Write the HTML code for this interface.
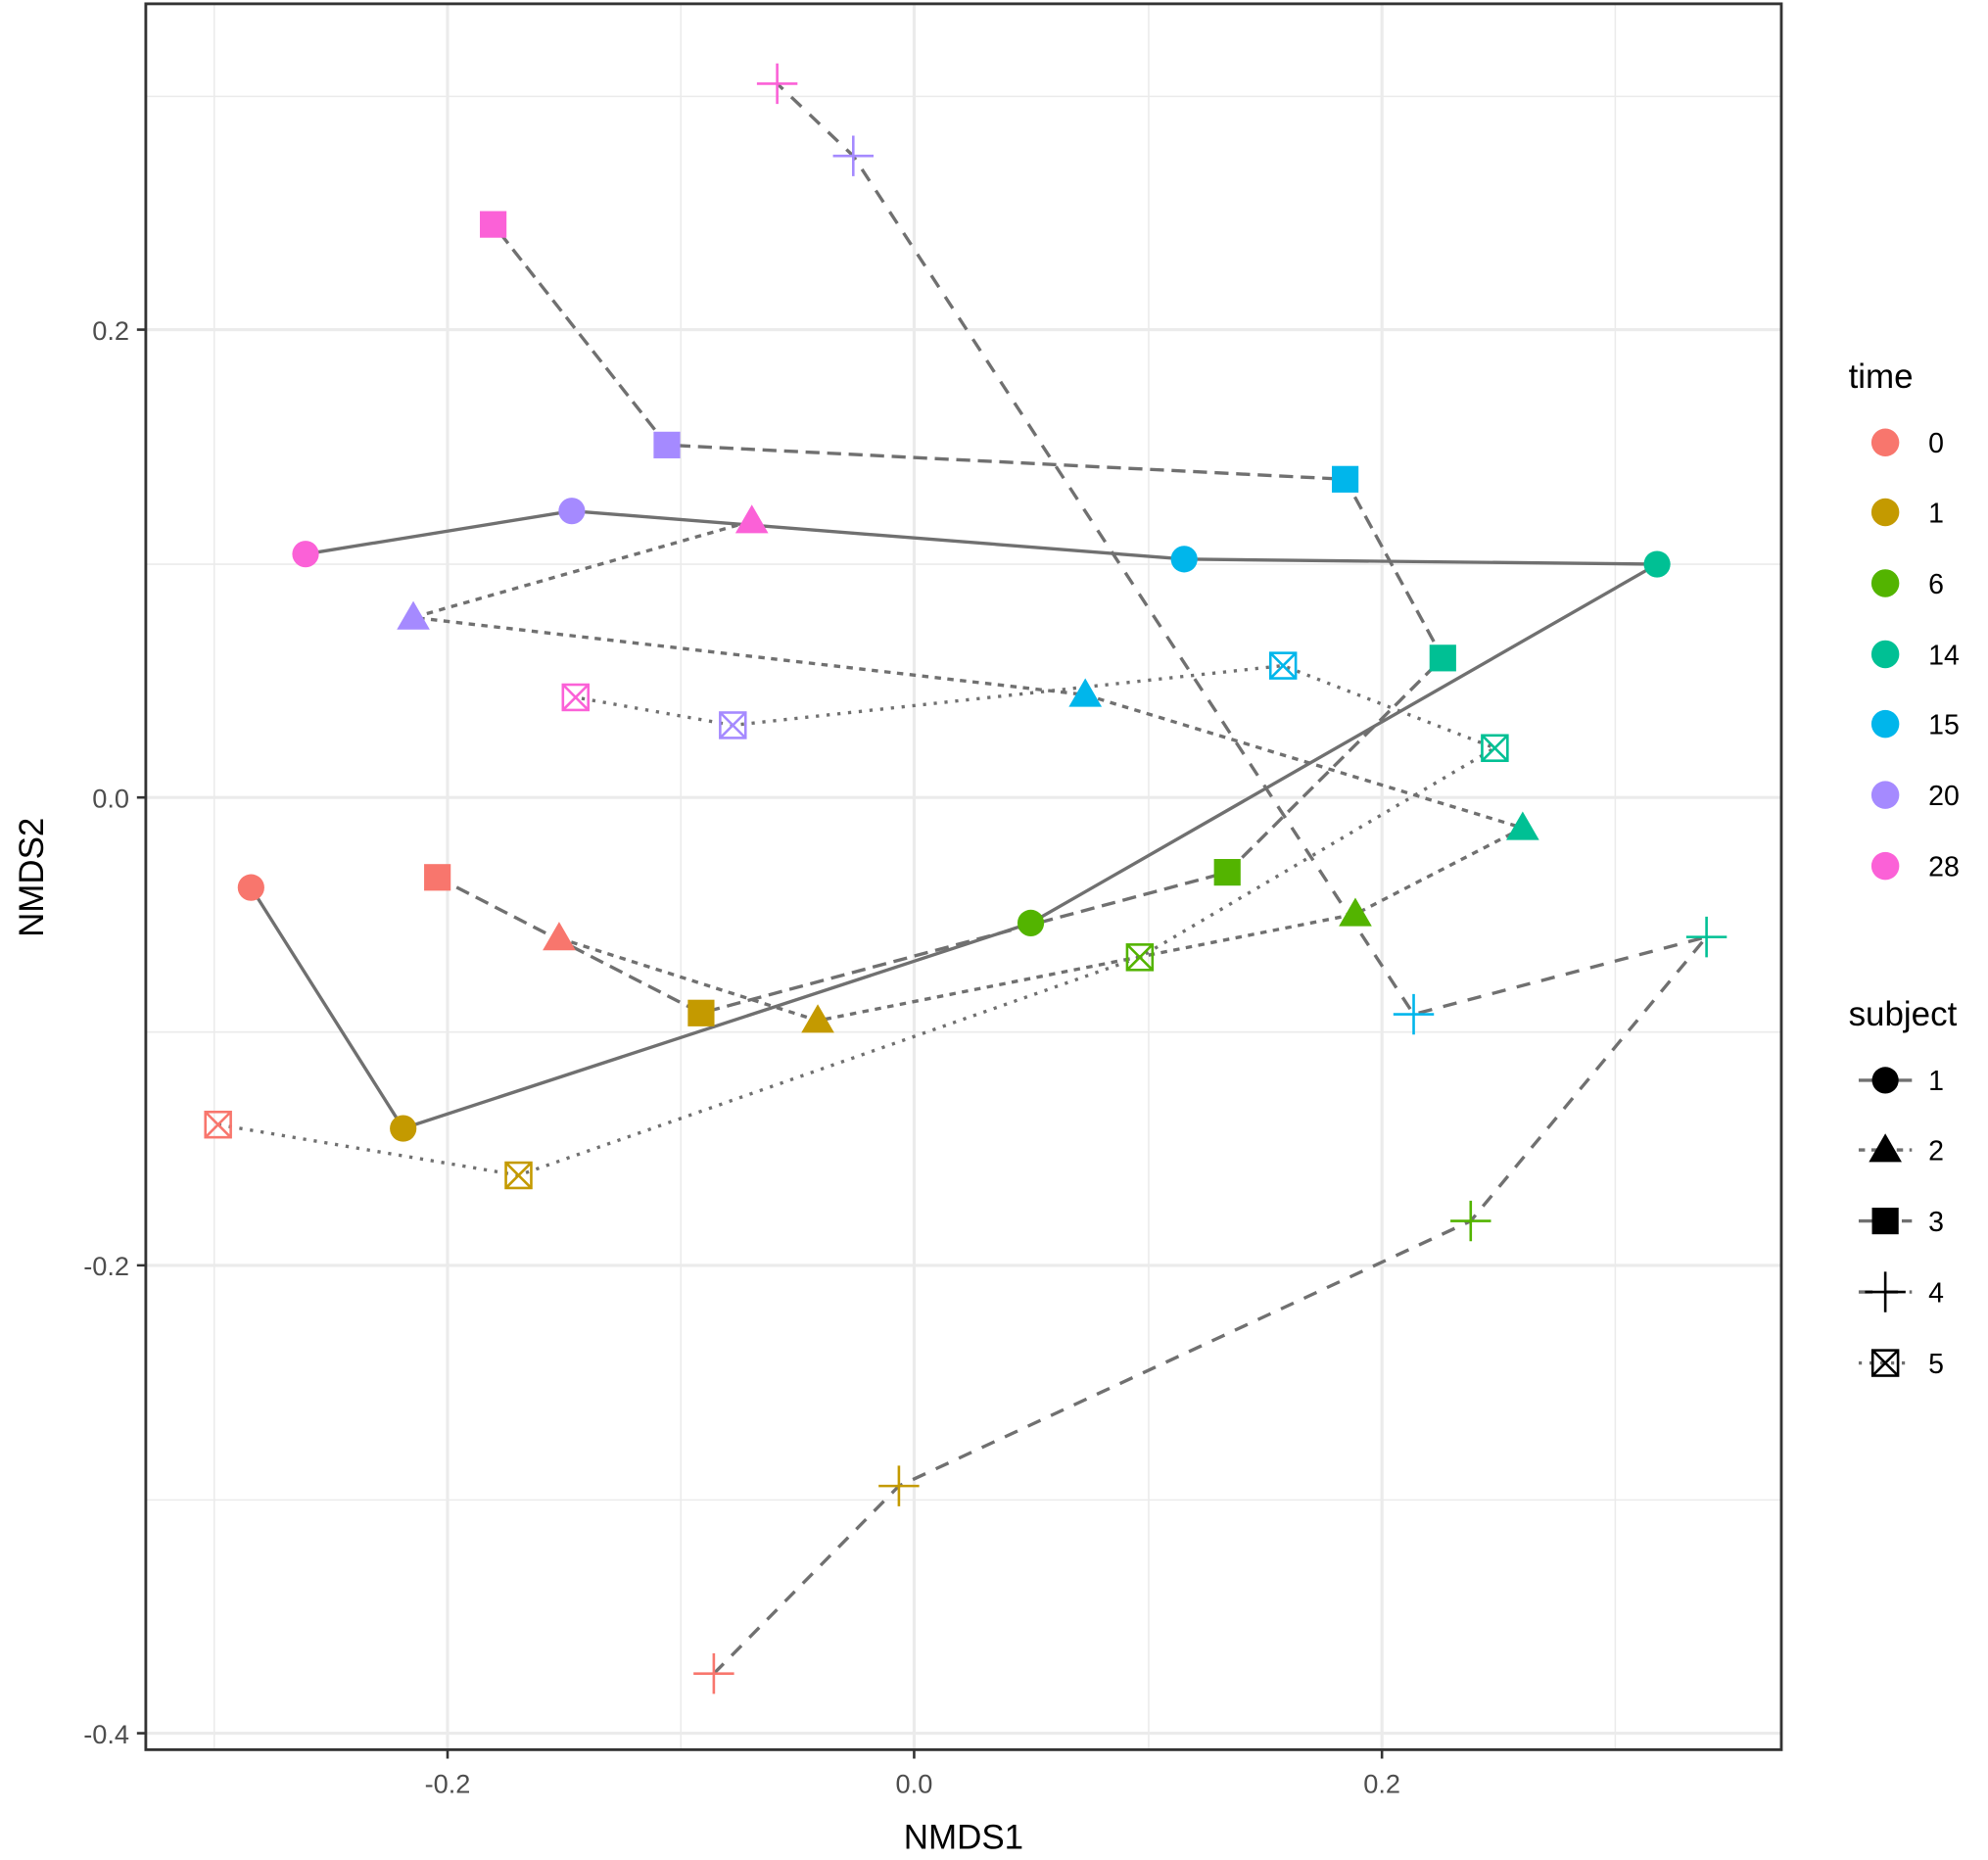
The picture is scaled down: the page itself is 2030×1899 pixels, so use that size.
<!DOCTYPE html>
<html><head><meta charset="utf-8"><style>html,body{margin:0;padding:0;background:#fff}svg{display:block}</style></head><body>
<svg width="2030" height="1899" viewBox="0 0 1568 1467" preserveAspectRatio="none" xmlns="http://www.w3.org/2000/svg" font-family="Liberation Sans, sans-serif">
<defs>
<g id="c"><circle r="10.5"/></g>
<g id="t"><polygon points="0,-13 13,9.5 -13,9.5"/></g>
<g id="s"><rect x="-10.5" y="-10.5" width="21" height="21"/></g>
<g id="p" fill="none" stroke-width="2"><path d="M-16,0H16M0,-16V16"/></g>
<g id="x" fill="none" stroke-width="2"><rect x="-10" y="-10" width="20" height="20"/><path d="M-10,-10L10,10M10,-10L-10,10"/></g>
</defs>
<rect width="1568" height="1467" fill="#fff"/>
<g stroke="#ebebeb" stroke-width="1.2">
<path d="M169,3V1380M537,3V1380M906,3V1380M1274,3V1380M115,76H1405M115,445H1405M115,814H1405M115,1183H1405"/>
</g>
<g stroke="#ebebeb" stroke-width="2.4">
<path d="M353,3V1380M721,3V1380M1090,3V1380M115,260H1405M115,629H1405M115,998H1405M115,1367H1405"/>
</g>
<g fill="none" stroke="#707070" stroke-width="2.6">
<polyline points="198,700 318,890 813,728 1307,445 934,441 451,403 241,437"/>
<polyline stroke-dasharray="5,5" points="441,740 645,805 1069,721 1201,653 856,548 326,487 593,411"/>
<polyline stroke-dasharray="11,6" points="345,692 553,799 968,688 1138,519 1061,378 526,351 389,177"/>
<polyline stroke-dasharray="11,9" points="563,1320 709,1172 1160,963 1346,739 1115,800 673,123 613,66"/>
<polyline stroke-dasharray="2.5,6" points="172,887 409,927 899,755 1179,590 1012,525 578,572 454,550"/>
</g>
<g>
<use href="#c" x="198" y="700" fill="#F8766D"/><use href="#c" x="318" y="890" fill="#C49A00"/><use href="#c" x="813" y="728" fill="#53B400"/><use href="#c" x="1307" y="445" fill="#00C094"/><use href="#c" x="934" y="441" fill="#00B6EB"/><use href="#c" x="451" y="403" fill="#A58AFF"/><use href="#c" x="241" y="437" fill="#FB61D7"/>
<use href="#t" x="441" y="740" fill="#F8766D"/><use href="#t" x="645" y="805" fill="#C49A00"/><use href="#t" x="1069" y="721" fill="#53B400"/><use href="#t" x="1201" y="653" fill="#00C094"/><use href="#t" x="856" y="548" fill="#00B6EB"/><use href="#t" x="326" y="487" fill="#A58AFF"/><use href="#t" x="593" y="411" fill="#FB61D7"/>
<use href="#s" x="345" y="692" fill="#F8766D"/><use href="#s" x="553" y="799" fill="#C49A00"/><use href="#s" x="968" y="688" fill="#53B400"/><use href="#s" x="1138" y="519" fill="#00C094"/><use href="#s" x="1061" y="378" fill="#00B6EB"/><use href="#s" x="526" y="351" fill="#A58AFF"/><use href="#s" x="389" y="177" fill="#FB61D7"/>
<use href="#p" x="563" y="1320" stroke="#F8766D"/><use href="#p" x="709" y="1172" stroke="#C49A00"/><use href="#p" x="1160" y="963" stroke="#53B400"/><use href="#p" x="1346" y="739" stroke="#00C094"/><use href="#p" x="1115" y="800" stroke="#00B6EB"/><use href="#p" x="673" y="123" stroke="#A58AFF"/><use href="#p" x="613" y="66" stroke="#FB61D7"/>
<use href="#x" x="172" y="887" stroke="#F8766D"/><use href="#x" x="409" y="927" stroke="#C49A00"/><use href="#x" x="899" y="755" stroke="#53B400"/><use href="#x" x="1179" y="590" stroke="#00C094"/><use href="#x" x="1012" y="525" stroke="#00B6EB"/><use href="#x" x="578" y="572" stroke="#A58AFF"/><use href="#x" x="454" y="550" stroke="#FB61D7"/>
</g>
<rect x="115" y="3" width="1290" height="1377" fill="none" stroke="#333" stroke-width="2.2"/>
<g stroke="#333" stroke-width="2">
<path d="M353,1380v7M721,1380v7M1090,1380v7M115,260h-7M115,629h-7M115,998h-7M115,1367h-7"/>
</g>
<g fill="#4d4d4d" font-size="21">
<text x="353" y="1414" text-anchor="middle">-0.2</text><text x="721" y="1414" text-anchor="middle">0.0</text><text x="1090" y="1414" text-anchor="middle">0.2</text>
<text x="102" y="268" text-anchor="end">0.2</text><text x="102" y="637" text-anchor="end">0.0</text><text x="102" y="1006" text-anchor="end">-0.2</text><text x="102" y="1375" text-anchor="end">-0.4</text>
</g>
<g fill="#000" font-size="27">
<text x="760" y="1458" text-anchor="middle">NMDS1</text>
<text transform="translate(34,692) rotate(-90)" text-anchor="middle">NMDS2</text>
<text x="1458" y="306">time</text>
<text x="1458" y="809">subject</text>
</g>
<g font-size="22" fill="#000">
<circle cx="1487" cy="349" r="11" fill="#F8766D"/><text x="1521" y="357">0</text>
<circle cx="1487" cy="404" r="11" fill="#C49A00"/><text x="1521" y="412">1</text>
<circle cx="1487" cy="460" r="11" fill="#53B400"/><text x="1521" y="468">6</text>
<circle cx="1487" cy="516" r="11" fill="#00C094"/><text x="1521" y="524">14</text>
<circle cx="1487" cy="571" r="11" fill="#00B6EB"/><text x="1521" y="579">15</text>
<circle cx="1487" cy="627" r="11" fill="#A58AFF"/><text x="1521" y="635">20</text>
<circle cx="1487" cy="683" r="11" fill="#FB61D7"/><text x="1521" y="691">28</text>
<g stroke="#707070" stroke-width="2.6" fill="none">
<path d="M1466,852h42"/><path d="M1466,907h42" stroke-dasharray="5,5"/><path d="M1466,963h42" stroke-dasharray="11,6"/><path d="M1466,1019h42" stroke-dasharray="11,9"/><path d="M1466,1075h42" stroke-dasharray="2.5,6"/>
</g>
<use href="#c" x="1487" y="852" fill="#000"/><text x="1521" y="860">1</text>
<use href="#t" x="1487" y="907" fill="#000"/><text x="1521" y="915">2</text>
<use href="#s" x="1487" y="963" fill="#000"/><text x="1521" y="971">3</text>
<use href="#p" x="1487" y="1019" stroke="#000"/><text x="1521" y="1027">4</text>
<use href="#x" x="1487" y="1075" stroke="#000"/><text x="1521" y="1083">5</text>
</g>
</svg>
</body></html>
